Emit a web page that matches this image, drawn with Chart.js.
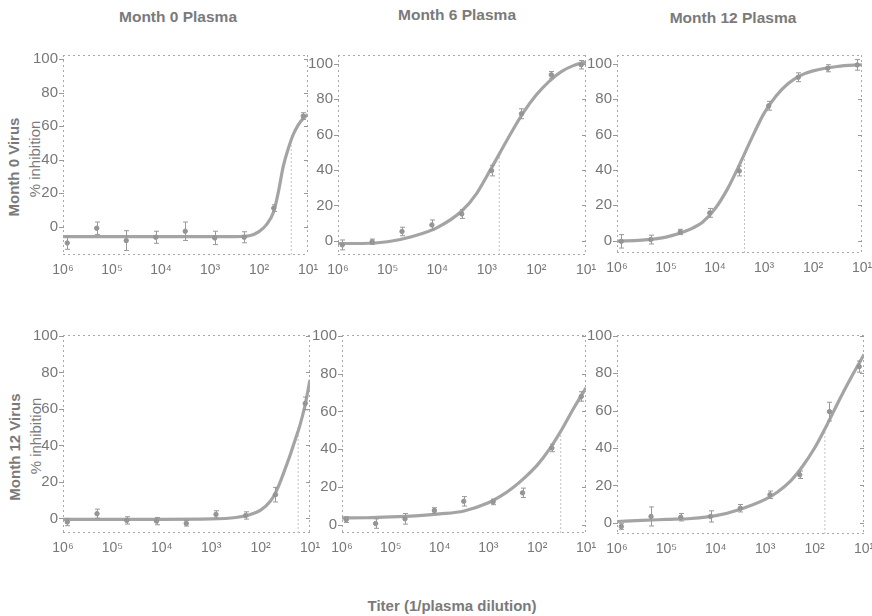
<!DOCTYPE html>
<html><head><meta charset="utf-8">
<script src="https://cdn.jsdelivr.net/npm/chart.js@4"></script>
<style>
body{margin:0;background:#fff;width:872px;height:616px;position:relative;overflow:hidden;font-family:"Liberation Sans",Arial,sans-serif;color:#7a7a7a}
canvas{position:absolute}
.t{position:absolute;font-weight:bold;white-space:nowrap;transform:translate(-50%,-50%);font-size:15.5px}
.v{position:absolute;white-space:nowrap;transform:translate(-50%,-50%) rotate(-90deg);font-size:15px}
.b{font-weight:bold}
</style></head><body>
<div class="t" style="left:178px;top:17px">Month 0 Plasma</div>
<div class="t" style="left:457px;top:15px">Month 6 Plasma</div>
<div class="t" style="left:733px;top:18px">Month 12 Plasma</div>
<div class="v b" style="left:13px;top:167px">Month 0 Virus</div>
<div class="v" style="left:34px;top:159px">% inhibition</div>
<div class="v b" style="left:14px;top:447px">Month 12 Virus</div>
<div class="v" style="left:35px;top:436px">% inhibition</div>
<div class="t" style="left:452px;top:605px;font-size:15px">Titer (1/plasma dilution)</div>
<script>
// ---- data ----
const titers = [819200, 204800, 51200, 12800, 3200, 800, 200, 50, 12.5];
const xTicks = [1e6, 1e5, 1e4, 1e3, 1e2, 1e1];
const xTickLabels = ['10\u2076','10\u2075','10\u2074','10\u00B3','10\u00B2','10\u00B9'];
const yTicks = [0, 20, 40, 60, 80, 100];

// Month 0 virus / Month 0 plasma
const v0p0Mean = [-9.8, -1.0, -8.4, -6.4, -2.8, -6.8, -6.4, 11, 66];
const v0p0Err  = [3.8, 3.7, 5.9, 3.6, 5.5, 4, 3.3, 2, 2];
const v0p0CurveX = [1e6, 1e5, 1e4, 1e3, 316, 158, 100, 71, 50, 40, 32, 25, 20, 16, 12.6, 10];
const v0p0CurveY = [-6, -6, -6, -6, -6, -5.5, -3, 1, 9, 21, 36, 47, 55, 60.5, 64.5, 67];

// Month 0 virus / Month 6 plasma
const v0p6Mean = [-2.3, -0.5, 5.3, 9.0, 15.2, 39.7, 71.8, 93.8, 99.5];
const v0p6Err  = [2.8, 1.5, 2.4, 2.8, 2.5, 3, 2.8, 1.9, 2.4];
const v0p6CurveX = [1e6, 316000, 1e5, 31600, 1e4, 3160, 1580, 1e3, 562, 316, 178, 100, 56, 32, 18, 10];
const v0p6CurveY = [-1.5, -1.5, -0.5, 2.5, 7.5, 17, 27, 36.5, 49, 61.5, 73, 82.5, 90, 95.5, 99, 101];

// Month 0 virus / Month 12 plasma
const v0p12Mean = [-0.4, 0.6, 4.9, 15.7, 39.4, 76.3, 92.4, 97.5, 99.4];
const v0p12Err  = [3.8, 2.5, 1.5, 2.5, 2.8, 2.5, 2.5, 2, 3];
const v0p12CurveX = [1e6, 316000, 1e5, 31600, 17800, 1e4, 5620, 3160, 1780, 1e3, 562, 316, 178, 100, 32, 10];
const v0p12CurveY = [-0.3, 0.3, 2, 6.5, 10.5, 18, 29, 43, 58, 72, 82, 89, 93.5, 96, 98.5, 99.5];

// Month 12 virus / Month 0 plasma
const v12p0Mean = [-2.0, 2.6, -1.1, -1.5, -2.7, 2.2, 1.6, 13, 63];
const v12p0Err  = [2, 2.5, 2, 2, 1.5, 2, 2, 4, 3.5];
const v12p0CurveX = [1e6, 1e5, 1e4, 1e3, 316, 178, 100, 63, 50, 40, 32, 25, 20, 16, 12.6, 10];
const v12p0CurveY = [-0.5, -0.5, -0.5, -0.3, 0.5, 1.8, 4.5, 9.5, 14, 20, 27, 35, 43, 51, 62, 76];

// Month 12 virus / Month 6 plasma
const v12p6Mean = [2.6, 0.5, 3.0, 7.4, 12.3, 12, 16.8, 40.6, 67.9];
const v12p6Err  = [1.5, 2.5, 2.8, 1.5, 2.5, 1.5, 2.5, 2, 2.5];
const v12p6CurveX = [1e6, 316000, 1e5, 31600, 1e4, 3160, 1e3, 562, 316, 178, 100, 56, 32, 18, 10];
const v12p6CurveY = [3.5, 3.6, 4, 4.6, 5.6, 7.2, 11.5, 15, 19.5, 25, 31.5, 40, 50, 61.5, 72.5];

// Month 12 virus / Month 12 plasma
const v12p12Mean = [-2, 3.4, 3.0, 3.4, 7.8, 15, 25.7, 59.5, 83.6];
const v12p12Err  = [1.5, 5.1, 2, 3, 2, 2, 2, 5, 3];
const v12p12CurveX = [1e6, 316000, 1e5, 31600, 1e4, 3160, 1e3, 562, 316, 178, 100, 56, 32, 18, 10];
const v12p12CurveY = [0.7, 1.3, 1.8, 2.3, 3.8, 7.3, 12.5, 16.5, 22, 30, 40, 52.5, 65.5, 78, 90];

// IC50 titers (dotted drop lines), in panel order
const ic50Titers = [22, 562, 2500, 17.4, 33, 62];
const ic50Level = 50;

// ---- layout (positions, not data) ----
const panels = [
  {mean:v0p0Mean, err:v0p0Err, cx:v0p0CurveX, cy:v0p0CurveY, yMin:-17, yMax:102.5, box:[63,55,308,255]},
  {mean:v0p6Mean, err:v0p6Err, cx:v0p6CurveX, cy:v0p6CurveY, yMin:-8, yMax:105, box:[338,55,586,255]},
  {mean:v0p12Mean, err:v0p12Err, cx:v0p12CurveX, cy:v0p12CurveY, yMin:-7, yMax:105, box:[617,55,862,253]},
  {mean:v12p0Mean, err:v12p0Err, cx:v12p0CurveX, cy:v12p0CurveY, yMin:-8, yMax:100.5, box:[63,335,310,533]},
  {mean:v12p6Mean, err:v12p6Err, cx:v12p6CurveX, cy:v12p6CurveY, yMin:-4.5, yMax:100.5, box:[342,335,586,533]},
  {mean:v12p12Mean, err:v12p12Err, cx:v12p12CurveX, cy:v12p12CurveY, yMin:-6, yMax:100.5, box:[617,335,864,534]}
];

const GRAY = '#a0a0a0';
const FONT = '"Liberation Sans", Arial, sans-serif';

const framePlugin = {
  id:'frame',
  beforeDatasetsDraw(chart){
    const {ctx, chartArea:a, scales} = chart;
    ctx.save();
    ctx.strokeStyle = '#a8a8a8';
    ctx.lineWidth = 1;
    ctx.setLineDash([2,3]);
    ctx.beginPath();
    ctx.moveTo(a.left, a.top + 0.5); ctx.lineTo(a.right, a.top + 0.5);
    ctx.moveTo(a.right - 0.5, a.top); ctx.lineTo(a.right - 0.5, a.bottom);
    ctx.moveTo(a.left, a.bottom - 0.5); ctx.lineTo(a.right, a.bottom - 0.5);
    ctx.moveTo(a.left + 0.5, a.top); ctx.lineTo(a.left + 0.5, a.bottom);
    ctx.stroke();
    ctx.setLineDash([]);
    ctx.strokeStyle = '#999';
    ctx.beginPath();
    scales.y.ticks.forEach(t => {
      const py = Math.round(scales.y.getPixelForValue(t.value)) + 0.5;
      ctx.moveTo(a.right, py); ctx.lineTo(a.right - 4, py);
      ctx.moveTo(a.left - 4, py); ctx.lineTo(a.left + 1, py);
    });
    ctx.stroke();
    ctx.restore();
  }
};

const errPlugin = {
  id:'errbars',
  afterDatasetsDraw(chart){
    const {ctx, scales} = chart;
    chart.data.datasets.forEach(ds => {
      if (!ds.errors) return;
      ctx.save();
      ctx.strokeStyle = '#999';
      ctx.lineWidth = 1;
      ds.data.forEach((pt, i) => {
        const e = ds.errors[i];
        const px = Math.round(scales.x.getPixelForValue(pt.x)) + 0.5;
        const y1 = scales.y.getPixelForValue(pt.y + e);
        const y2 = scales.y.getPixelForValue(pt.y - e);
        ctx.beginPath();
        ctx.moveTo(px, y1); ctx.lineTo(px, y2);
        ctx.moveTo(px - 2.5, y1); ctx.lineTo(px + 2.5, y1);
        ctx.moveTo(px - 2.5, y2); ctx.lineTo(px + 2.5, y2);
        ctx.stroke();
      });
      ctx.restore();
    });
  }
};

function makePanel(p, idx){
  const [l,t,r,b] = p.box;
  const PADT = 18, PADR = 24, YW = 40, XH = 32;
  const W = (r - l) + YW + PADR, H = (b - t) + PADT + XH;
  const c = document.createElement('canvas');
  c.width = W; c.height = H;
  c.style.left = (l - YW) + 'px'; c.style.top = (t - PADT) + 'px';
  c.style.width = W + 'px'; c.style.height = H + 'px';
  document.body.appendChild(c);
  new Chart(c, {
    type:'scatter',
    data:{datasets:[
      {label:'fit', data:p.cx.map((x,i)=>({x, y:p.cy[i]})), showLine:true, borderColor:'#a4a4a4', borderWidth:3.2,
       pointRadius:0, cubicInterpolationMode:'monotone', order:2},
      {label:'IC50', data:[{x:ic50Titers[idx], y:p.yMin},{x:ic50Titers[idx], y:ic50Level}], showLine:true,
       borderColor:'#c4c4c4', borderWidth:1, borderDash:[2,2], pointRadius:0, order:3},
      {label:'data', data:titers.map((x,i)=>({x, y:p.mean[i]})), errors:p.err, showLine:false,
       pointRadius:2.2, pointBackgroundColor:'#939393', pointBorderColor:'#939393', order:1}
    ]},
    options:{
      responsive:false, animation:false, devicePixelRatio:1,
      layout:{padding:{left:0, top:PADT, right:PADR, bottom:0}},
      plugins:{legend:{display:false}, tooltip:{enabled:false}},
      scales:{
        x:{type:'logarithmic', reverse:true, min:10, max:1e6,
           afterFit:s=>{s.height = XH;},
           afterBuildTicks:s=>{s.ticks = xTicks.map(v=>({value:v}));},
           ticks:{callback:(v,i)=>xTickLabels[i], color:'#777', font:{size:14, family:FONT}, maxRotation:0, autoSkip:false, padding:7},
           grid:{drawOnChartArea:false, drawTicks:false, tickLength:0, color:GRAY},
           border:{display:false}},
        y:{min:p.yMin, max:p.yMax,
           afterFit:s=>{s.width = YW;},
           afterBuildTicks:s=>{s.ticks = yTicks.map(v=>({value:v}));},
           ticks:{color:'#777', font:{size:15, family:FONT}, padding:5},
           grid:{drawOnChartArea:false, drawTicks:false, tickLength:0, color:GRAY},
           border:{display:false}}
      }
    },
    plugins:[framePlugin, errPlugin]
  });
}
panels.forEach(makePanel);
</script>
</body></html>
